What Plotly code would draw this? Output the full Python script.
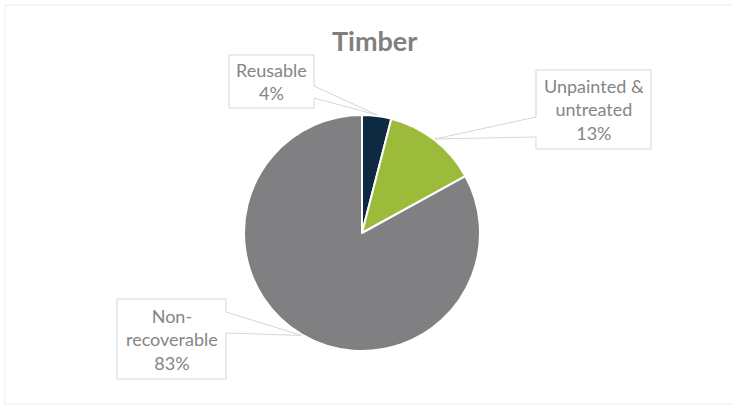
import math
import plotly.graph_objects as go

# Timber waste streams
categories = ["Reusable", "Unpainted & untreated", "Non-recoverable"]
shares = [4, 13, 83]
label_lines = [["Reusable"], ["Unpainted &", "untreated"], ["Non-", "recoverable"]]
slice_colors = ["#0D2A40", "#9CBB3A", "#807F81"]

W, H = 732, 405
CX, CY, RAD = 362, 233, 118  # pie centre and radius in pixels


def px(x):
    return x / W


def py(y):
    return 1 - y / H


fig = go.Figure()
fig.add_trace(go.Pie(
    labels=categories,
    values=shares,
    sort=False,
    direction="clockwise",
    rotation=0,
    textinfo="none",
    hoverinfo="label+percent",
    marker=dict(colors=slice_colors, line=dict(color="white", width=2)),
    domain=dict(x=[px(CX - RAD), px(CX + RAD)], y=[py(CY + RAD), py(CY - RAD)]),
    showlegend=False,
))

# callout boxes: (left, top, right, bottom), side of the pointer, pointer base span
boxes = [
    ((229, 55, 314, 108), "right", (86, 98)),
    ((536, 70, 651, 149), "left", (117, 137)),
    ((117, 299, 226, 379), "right", (312, 333)),
]

total = sum(shares)
cum = 0
shapes = []
annotations = []
for i, v in enumerate(shares):
    mid = (cum + v / 2) / total * 2 * math.pi
    cum += v
    tx = CX + (RAD + 1) * math.sin(mid)
    ty = CY - (RAD + 1) * math.cos(mid)
    (l, t, r, b), side, (b1, b2) = boxes[i]
    if side == "right":
        pts = [(l, t), (r, t), (r, b1), (tx, ty), (r, b2), (r, b), (l, b)]
    else:
        pts = [(l, t), (r, t), (r, b), (l, b), (l, b2), (tx, ty), (l, b1)]
    path = "M " + " L ".join(f"{px(x):.5f},{py(y):.5f}" for x, y in pts) + " Z"
    shapes.append(dict(type="path", xref="paper", yref="paper", path=path,
                       fillcolor="white", line=dict(color="#D6D6D6", width=1),
                       layer="above"))
    text = "<br>".join(label_lines[i] + [f"{v}%"])
    annotations.append(dict(x=px((l + r) / 2), y=py((t + b) / 2), xref="paper", yref="paper",
                            text=text, showarrow=False, xanchor="center", yanchor="middle",
                            font=dict(family="Lato", size=18, color="#858585")))

# faint chart frame (open on the right)
shapes.insert(0, dict(type="path", xref="paper", yref="paper",
                      path=f"M 1.2,{py(5):.5f} L {px(5):.5f},{py(5):.5f} "
                           f"L {px(5):.5f},{py(404):.5f} L 1.2,{py(404):.5f}",
                      line=dict(color="#EDEDED", width=1), layer="below"))

annotations.append(dict(x=px(374), y=py(40), xref="paper", yref="paper", text="<b>Timber</b>",
                        showarrow=False, xanchor="center", yanchor="middle",
                        font=dict(family="Lato", size=27, color="#808080")))

fig.update_layout(
    width=W, height=H,
    margin=dict(l=0, r=0, t=0, b=0),
    paper_bgcolor="white", plot_bgcolor="white",
    shapes=shapes, annotations=annotations,
)

fig.write_html("out.html")
